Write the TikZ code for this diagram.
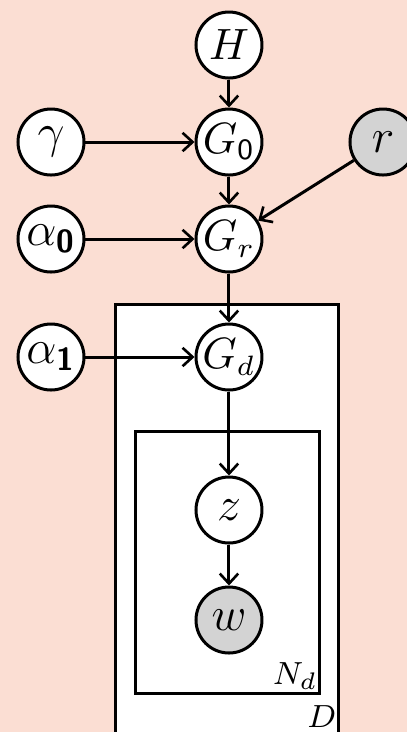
\documentclass[tikz,border=0pt]{standalone}
\usepackage{amsmath}
\usetikzlibrary{arrows.meta}
\definecolor{peach}{RGB}{251,222,211}
\definecolor{obsgray}{RGB}{211,211,211}
% one unit = 0.25pt, so the whole picture is 101.75pt x 183pt
\tikzset{
  var/.style={circle, draw=black, fill=white, line width=0.75pt, minimum size=16.5pt, inner sep=0pt,
    font=\fontsize{10.5}{12}\selectfont},
  lvar/.style={var, font=\fontsize{12}{14}\selectfont},
  obs/.style={lvar, fill=obsgray},
  plate/.style={draw=black, fill=white, line width=0.75pt},
  edge/.style={line width=0.75pt, -{Straight Barb[length=2.5pt,width=4.6pt,line width=0.65pt]}},
  platelabel/.style={font=\fontsize{8.5}{10}\selectfont, inner sep=0pt}
}
\begin{document}
\begin{tikzpicture}[x=0.25pt,y=-0.25pt]
  \fill[peach] (0,0) rectangle (407,732);
  \useasboundingbox (0,0) rectangle (407,732);
  % plates
  \draw[plate] (116,745) -- (116,304) -- (339,304) -- (339,745);
  \draw[plate] (136,431) rectangle (320,693);
  \node[platelabel, anchor=base east] (Dlab) at (337,727) {$D$};
  \node[platelabel, anchor=base east] (Nlab) at (318,684) {$N_d$};
  % variables
  \node[var] (H) at (229,45) {$H$};
  \node[var] (G0) at (229,142) {$G_{\textsf{0}}$};
  \node[obs] (r) at (383,142) {$r$};
  \node[lvar] (gamma) at (51,142) {$\gamma$};
  \node[lvar] (a0) at (51,239) {$\alpha_{\textsf{\textbf{0}}}$};
  \node[var] (Gr) at (229,239) {$G_r$};
  \node[lvar] (a1) at (51,357) {$\alpha_{\textsf{\textbf{1}}}$};
  \node[var] (Gd) at (229,357) {$G_d$};
  \node[lvar] (z) at (229,510) {$z$};
  \node[obs] (w) at (229,620) {$w$};
  % dependencies
  \draw[edge] (H) -- (G0);
  \draw[edge] (gamma) -- (G0);
  \draw[edge] (G0) -- (Gr);
  \draw[edge] (a0) -- (Gr);
  \draw[edge] (r) -- (Gr);
  \draw[edge] (Gr) -- (Gd);
  \draw[edge] (a1) -- (Gd);
  \draw[edge] (Gd) -- (z);
  \draw[edge] (z) -- (w);
\end{tikzpicture}
\end{document}
